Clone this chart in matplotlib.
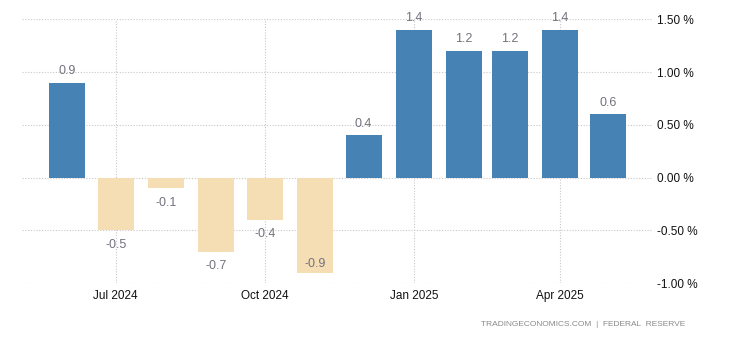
import datetime as dt
import matplotlib
matplotlib.use("Agg")
import matplotlib.pyplot as plt
import matplotlib.dates as mdates

# monthly change, Jun 2024 .. May 2025
months = ["2024-06", "2024-07", "2024-08", "2024-09", "2024-10", "2024-11",
          "2024-12", "2025-01", "2025-02", "2025-03", "2025-04", "2025-05"]
values = [0.9, -0.5, -0.1, -0.7, -0.4, -0.9, 0.4, 1.4, 1.2, 1.2, 1.4, 0.6]
yticks = [-1.0, -0.5, 0.0, 0.5, 1.0, 1.5]
xtick_months = ["2024-07", "2024-10", "2025-01", "2025-04"]
source = "TRADINGECONOMICS.COM  |  FEDERAL  RESERVE"

plt.rcParams['font.family'] = ['Liberation Sans', 'DejaVu Sans']

dates = [dt.datetime.strptime(m, "%Y-%m") for m in months]
tick_dates = [dt.datetime.strptime(m, "%Y-%m") for m in xtick_months]
colors = ['#4682b4' if v >= 0 else '#f5deb3' for v in values]

fig = plt.figure(figsize=(7.3, 3.4), dpi=100)
ax = fig.add_axes([22 / 730, 56.7 / 340, 631 / 730, 264.1 / 340])

ymin, ymax = -1.0, 1.5
ax.bar(dates, values, width=22.2, color=colors, zorder=2)

lbl_color = '#72727e'
for d, v in zip(dates, values):
    if v >= 0:
        ax.annotate(f"{v:.1f}", (d, v), xytext=(0, 4), textcoords='offset points',
                    ha='center', va='bottom', fontsize=9, color=lbl_color)
    elif v - ymin < 0.2:
        # no room below the bar, label goes inside it
        ax.annotate(f"{v:.1f}", (d, v), xytext=(0, 2), textcoords='offset points',
                    ha='center', va='bottom', fontsize=9, color=lbl_color)
    else:
        ax.annotate(f"{v:.1f}", (d, v), xytext=(0, -6), textcoords='offset points',
                    ha='center', va='top', fontsize=9, color=lbl_color)

ax.set_xlim(dt.datetime(2024, 5, 4, 5), dt.datetime(2025, 5, 28, 12))
ax.set_ylim(ymin, ymax)
ax.set_xticks(tick_dates)
ax.xaxis.set_major_formatter(mdates.DateFormatter("%b %Y"))
ax.set_yticks(yticks)
ax.set_yticklabels([f"{t:.2f} %" for t in yticks])
ax.yaxis.tick_right()

ax.tick_params(axis='both', length=0, labelsize=8.5, colors='#111111')
ax.tick_params(axis='x', pad=5)
ax.tick_params(axis='y', pad=3)

for s in ax.spines.values():
    s.set_visible(False)
ax.grid(True, linestyle=(0, (1, 1.5)), color='#c8c8c8', linewidth=0.8, zorder=0)
ax.set_axisbelow(True)

fig.text(685 / 730, 15 / 340, source, ha='right', va='center',
         fontsize=6, color='#8a8a8a')

fig.savefig("out.png", dpi=100)
